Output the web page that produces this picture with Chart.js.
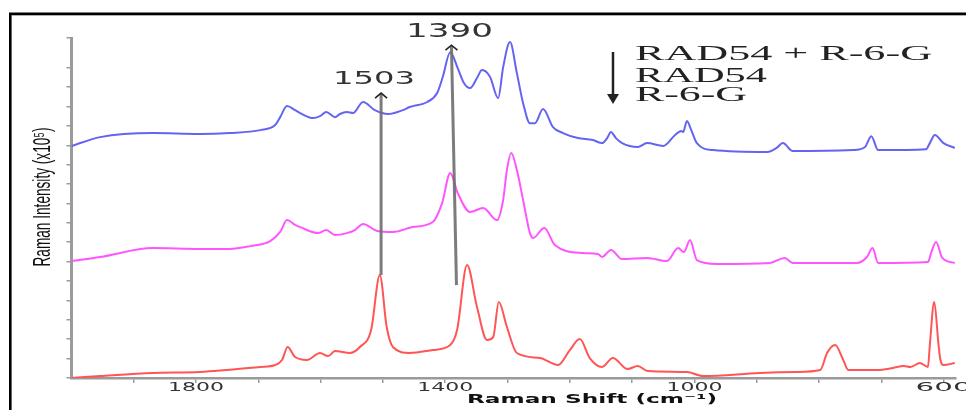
<!DOCTYPE html>
<html>
<head>
<meta charset="utf-8">
<script src="https://cdn.jsdelivr.net/npm/chart.js@4"></script>
<style>
  html, body { margin: 0; padding: 0; background: #fff; }
  canvas { display: block; }
</style>
</head>
<body>
<canvas id="raman" width="966" height="410"></canvas>
<script>
// Raman spectra, stacked with a vertical offset (x10^5 counts)
const rad54R6gShift = [2000,1954,1869,1794,1746,1697,1673,1665,1654,1641,1633,1612,1601,1591,1577,1569,1558,1548,1532,1513,1492,1468,1457,1429,1413,1404,1392,1380,1370,1360,1349,1341,1328,1315,1307,1296,1285,1275,1264,1256,1243,1227,1211,1187,1163,1148,1140,1134,1126,1116,1091,1076,1050,1031,1021,1018,1012,1005,996,970,883,868,858,842,745,726,716,705,628,622,614,600,582];
const rad54R6gIntensity = [11.96,12.42,12.63,12.58,12.63,12.78,13.04,13.45,14.02,13.81,13.66,13.40,13.50,13.71,13.45,13.61,13.71,13.66,14.23,13.81,13.61,13.81,13.97,14.23,14.69,15.52,16.80,15.98,15.21,14.95,15.47,15.88,15.52,14.43,16.03,17.32,15.72,14.17,13.14,13.14,13.87,12.94,12.63,12.37,12.27,12.11,12.37,12.68,12.37,12.11,11.91,12.11,11.96,12.53,12.73,12.68,13.25,12.78,12.11,11.75,11.65,11.86,12.11,11.70,11.75,11.91,12.47,11.75,11.80,12.11,12.53,12.11,11.86];

const rad54Shift = [2000,1954,1869,1794,1746,1713,1681,1665,1654,1641,1633,1604,1591,1577,1558,1545,1532,1509,1484,1452,1420,1405,1392,1380,1360,1339,1317,1307,1301,1294,1285,1275,1264,1259,1241,1224,1179,1155,1148,1134,1116,1076,1044,1026,1017,1007,996,964,879,855,842,739,723,714,705,625,620,612,602,582];
const rad54Intensity = [6.03,6.24,6.70,6.65,6.65,6.80,7.06,7.53,8.14,7.89,7.78,7.47,7.63,7.37,7.47,7.63,7.94,7.58,7.53,7.78,8.04,9.02,10.57,9.54,8.56,8.76,8.14,9.18,10.72,11.60,10.72,9.18,7.47,7.22,7.73,6.86,6.44,6.39,6.24,6.60,6.13,6.19,6.03,6.70,6.49,7.11,6.08,5.88,5.93,6.19,5.93,5.93,6.24,6.70,5.93,5.98,6.44,7.01,6.19,5.93];

const r6gShift = [2000,1954,1869,1794,1697,1673,1662,1653,1641,1622,1601,1588,1577,1553,1537,1519,1505,1494,1484,1457,1420,1392,1381,1365,1349,1333,1323,1314,1301,1285,1248,1219,1200,1184,1168,1148,1131,1107,1091,1075,1012,986,895,836,798,787,774,761,753,706,681,664,653,638,625,622,615,608,605,600,582];
const r6gIntensity = [0,0.10,0.26,0.31,0.57,0.67,0.93,1.60,1.08,0.93,1.29,1.13,1.39,1.29,1.60,2.47,5.31,2.63,1.60,1.29,1.44,1.70,2.47,5.82,3.66,1.96,2.11,3.92,2.63,1.29,1.03,0.67,1.44,2.01,1.03,0.57,1.03,0.46,0.62,0.36,0.31,0.10,0.26,0.31,0.41,1.29,1.70,0.93,0.41,0.41,0.52,0.62,0.57,0.77,0.57,1.70,3.92,1.70,0.93,0.67,0.77];

// axes
const shiftMin = 580, shiftMax = 2000;
const shiftTicks = [1900,1800,1700,1600,1500,1400,1300,1200,1100,1000,900,800,700,600];
const shiftLabels = [1800,1400,1000,600];
const intensityMax = 17.53;
const intensityTicks = [0,1,2,3,4,5,6,7,8,9,10,11,12,13,14,15,16];

// marked bands: wavenumber, arrow tip / foot intensity
const bandShift = [1503, 1390];
const bandTop = [14.69, 17.16];
const bandFoot = [5.31, 4.79];

const legendNames = ['RAD54 + R-6-G', 'RAD54', 'R-6-G'];

const toPoints = (xs, ys) => xs.map((x, i) => ({ x: x, y: ys[i] }));

// draws text squeezed/stretched to a given width
function wideText(ctx, text, x, y, font, width, hScale, angle, color) {
    ctx.save();
    ctx.font = font;
    const sx = width / ctx.measureText(text).width;
    ctx.translate(x, y);
    ctx.rotate(angle || 0);
    ctx.scale(sx, hScale || 1);
    ctx.fillStyle = color || '#222';
    ctx.textAlign = 'center';
    ctx.textBaseline = 'middle';
    ctx.fillText(text, 0, 0);
    ctx.restore();
}

function chevron(ctx, x, y) {
    ctx.beginPath();
    ctx.moveTo(x - 6, y + 5);
    ctx.lineTo(x, y);
    ctx.lineTo(x + 6, y + 5);
    ctx.stroke();
}

const decorations = {
    id: 'decorations',
    afterDraw(chart) {
        const ctx = chart.ctx;
        const xs = chart.scales.x, ys = chart.scales.y;

        // frame
        ctx.save();
        ctx.strokeStyle = '#000';
        ctx.lineWidth = 2.6;
        ctx.beginPath();
        ctx.moveTo(10.3, 410);
        ctx.lineTo(10.3, 13.7);
        ctx.lineTo(966, 13.7);
        ctx.stroke();
        ctx.strokeStyle = '#b0b0b0';
        ctx.lineWidth = 1;
        ctx.beginPath();
        ctx.moveTo(12, 15.5);
        ctx.lineTo(966, 15.5);
        ctx.stroke();
        ctx.restore();

        // x tick labels
        shiftLabels.forEach(v => {
            wideText(ctx, String(v), xs.getPixelForValue(v), 388, '13px "DejaVu Sans"', 56, 1, 0, '#333');
        });

        // axis titles
        wideText(ctx, 'Raman Shift (cm\u207B\u00B9)', 592, 400, 'bold 13px "DejaVu Sans"', 250, 1, 0, '#111');
        wideText(ctx, 'Raman Intensity (x10\u2075)', 43, 197, '15px "Liberation Sans"', 139, 1.6, -Math.PI / 2, '#111');

        // band arrows
        ctx.save();
        bandShift.forEach((s, i) => {
            const x = xs.getPixelForValue(s);
            const lean = i === 1 ? 5 : 0;
            const yTop = ys.getPixelForValue(bandTop[i]);
            const yFoot = ys.getPixelForValue(bandFoot[i]);
            ctx.strokeStyle = 'rgba(110,110,110,0.9)';
            ctx.lineWidth = 3;
            ctx.beginPath();
            ctx.moveTo(x, yTop + 1);
            ctx.lineTo(x + lean, yFoot);
            ctx.stroke();
            ctx.strokeStyle = '#222';
            ctx.lineWidth = 1.6;
            chevron(ctx, x, yTop);
        });
        ctx.restore();
        const x1503 = xs.getPixelForValue(bandShift[0]);
        const x1390 = xs.getPixelForValue(bandShift[1]);
        wideText(ctx, String(bandShift[0]), x1503 - 7, 79, '18px "DejaVu Sans"', 82, 1, 0, '#333');
        wideText(ctx, String(bandShift[1]), x1390 - 2, 32, '19px "DejaVu Sans"', 87, 1, 0, '#333');

        // stacking order key
        ctx.save();
        ctx.strokeStyle = '#222';
        ctx.fillStyle = '#222';
        ctx.lineWidth = 2.5;
        ctx.beginPath();
        ctx.moveTo(613, 52);
        ctx.lineTo(613, 97);
        ctx.stroke();
        ctx.beginPath();
        ctx.moveTo(607, 94);
        ctx.lineTo(619, 94);
        ctx.lineTo(613, 104);
        ctx.closePath();
        ctx.fill();
        ctx.restore();
        const keyY = [55, 76.5, 95.5];
        const keyW = [297, 132, 112];
        legendNames.forEach((name, i) => {
            wideText(ctx, name, 635 + keyW[i] / 2, keyY[i], '20px "Liberation Serif"', keyW[i], 1, 0, '#222');
        });
    }
};

const axisGrey = '#9a9a9a';

new Chart(document.getElementById('raman'), {
    type: 'line',
    data: {
        datasets: [
            {
                label: legendNames[0],
                data: toPoints(rad54R6gShift, rad54R6gIntensity),
                borderColor: '#6464f2',
                borderWidth: 2
            },
            {
                label: legendNames[1],
                data: toPoints(rad54Shift, rad54Intensity),
                borderColor: '#ff55ff',
                borderWidth: 2
            },
            {
                label: legendNames[2],
                data: toPoints(r6gShift, r6gIntensity),
                borderColor: '#ff5555',
                borderWidth: 2
            }
        ]
    },
    options: {
        responsive: false,
        animation: false,
        devicePixelRatio: 1,
        elements: { point: { radius: 0 }, line: { cubicInterpolationMode: 'monotone' } },
        layout: { padding: { left: 66.5, right: 10, top: 38, bottom: 27 } },
        plugins: { legend: { display: false }, tooltip: { enabled: false } },
        scales: {
            x: {
                type: 'linear',
                reverse: true,
                min: shiftMin,
                max: shiftMax,
                afterBuildTicks: scale => { scale.ticks = shiftTicks.map(v => ({ value: v })); },
                ticks: { display: false },
                grid: { drawOnChartArea: false, drawTicks: true, tickLength: 5, color: axisGrey, lineWidth: 1.5 },
                border: { display: true, color: axisGrey, width: 2.5 }
            },
            y: {
                min: 0,
                max: intensityMax,
                afterBuildTicks: scale => {
                    scale.ticks = intensityTicks.concat([intensityMax]).map(v => ({ value: v }));
                },
                ticks: { display: false },
                grid: { drawOnChartArea: false, drawTicks: true, tickLength: 5, color: axisGrey, lineWidth: 1.5 },
                border: { display: true, color: axisGrey, width: 3 }
            }
        }
    },
    plugins: [decorations]
});
</script>
</body>
</html>
